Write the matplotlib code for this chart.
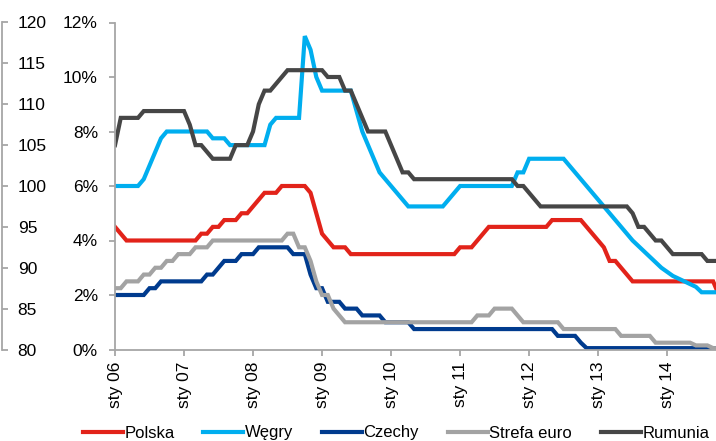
import matplotlib
matplotlib.use("Agg")
import matplotlib.pyplot as plt
from matplotlib.ticker import FuncFormatter

plt.rcParams['font.family'] = ['Liberation Sans', 'DejaVu Sans']

# monthly policy rates, Jan 2006 .. Oct 2014 (one row per year)
polska = [4.5, 4.25, 4.0, 4.0, 4.0, 4.0, 4.0, 4.0, 4.0, 4.0, 4.0, 4.0,
          4.0, 4.0, 4.0, 4.25, 4.25, 4.5, 4.5, 4.75, 4.75, 4.75, 5.0, 5.0,
          5.25, 5.5, 5.75, 5.75, 5.75, 6.0, 6.0, 6.0, 6.0, 6.0, 5.75, 5.0,
          4.25, 4.0, 3.75, 3.75, 3.75, 3.5, 3.5, 3.5, 3.5, 3.5, 3.5, 3.5,
          3.5, 3.5, 3.5, 3.5, 3.5, 3.5, 3.5, 3.5, 3.5, 3.5, 3.5, 3.5,
          3.75, 3.75, 3.75, 4.0, 4.25, 4.5, 4.5, 4.5, 4.5, 4.5, 4.5, 4.5,
          4.5, 4.5, 4.5, 4.5, 4.75, 4.75, 4.75, 4.75, 4.75, 4.75, 4.5, 4.25,
          4.0, 3.75, 3.25, 3.25, 3.0, 2.75, 2.5, 2.5, 2.5, 2.5, 2.5, 2.5,
          2.5, 2.5, 2.5, 2.5, 2.5, 2.5, 2.5, 2.5, 2.5, 2.0]

wegry = [6.0, 6.0, 6.0, 6.0, 6.0, 6.25, 6.75, 7.25, 7.75, 8.0, 8.0, 8.0,
         8.0, 8.0, 8.0, 8.0, 8.0, 7.75, 7.75, 7.75, 7.5, 7.5, 7.5, 7.5,
         7.5, 7.5, 7.5, 8.25, 8.5, 8.5, 8.5, 8.5, 8.5, 11.5, 11.0, 10.0,
         9.5, 9.5, 9.5, 9.5, 9.5, 9.5, 8.75, 8.0, 7.5, 7.0, 6.5, 6.25,
         6.0, 5.75, 5.5, 5.25, 5.25, 5.25, 5.25, 5.25, 5.25, 5.25, 5.5, 5.75,
         6.0, 6.0, 6.0, 6.0, 6.0, 6.0, 6.0, 6.0, 6.0, 6.0, 6.5, 6.5,
         7.0, 7.0, 7.0, 7.0, 7.0, 7.0, 7.0, 6.75, 6.5, 6.25, 6.0, 5.75,
         5.5, 5.25, 5.0, 4.75, 4.5, 4.25, 4.0, 3.8, 3.6, 3.4, 3.2, 3.0,
         2.85, 2.7, 2.6, 2.5, 2.4, 2.3, 2.1, 2.1, 2.1, 2.1]

czechy = [2.0, 2.0, 2.0, 2.0, 2.0, 2.0, 2.25, 2.25, 2.5, 2.5, 2.5, 2.5,
          2.5, 2.5, 2.5, 2.5, 2.75, 2.75, 3.0, 3.25, 3.25, 3.25, 3.5, 3.5,
          3.5, 3.75, 3.75, 3.75, 3.75, 3.75, 3.75, 3.5, 3.5, 3.5, 2.75, 2.25,
          2.25, 1.75, 1.75, 1.75, 1.5, 1.5, 1.5, 1.25, 1.25, 1.25, 1.25, 1.0,
          1.0, 1.0, 1.0, 1.0, 0.75, 0.75, 0.75, 0.75, 0.75, 0.75, 0.75, 0.75,
          0.75, 0.75, 0.75, 0.75, 0.75, 0.75, 0.75, 0.75, 0.75, 0.75, 0.75, 0.75,
          0.75, 0.75, 0.75, 0.75, 0.75, 0.5, 0.5, 0.5, 0.5, 0.25, 0.05, 0.05,
          0.05, 0.05, 0.05, 0.05, 0.05, 0.05, 0.05, 0.05, 0.05, 0.05, 0.05, 0.05,
          0.05, 0.05, 0.05, 0.05, 0.05, 0.05, 0.05, 0.05, 0.05, 0.05]

strefa_euro = [2.25, 2.25, 2.5, 2.5, 2.5, 2.75, 2.75, 3.0, 3.0, 3.25, 3.25, 3.5,
               3.5, 3.5, 3.75, 3.75, 3.75, 4.0, 4.0, 4.0, 4.0, 4.0, 4.0, 4.0,
               4.0, 4.0, 4.0, 4.0, 4.0, 4.0, 4.25, 4.25, 3.75, 3.75, 3.25, 2.5,
               2.0, 2.0, 1.5, 1.25, 1.0, 1.0, 1.0, 1.0, 1.0, 1.0, 1.0, 1.0,
               1.0, 1.0, 1.0, 1.0, 1.0, 1.0, 1.0, 1.0, 1.0, 1.0, 1.0, 1.0,
               1.0, 1.0, 1.0, 1.25, 1.25, 1.25, 1.5, 1.5, 1.5, 1.5, 1.25, 1.0,
               1.0, 1.0, 1.0, 1.0, 1.0, 1.0, 0.75, 0.75, 0.75, 0.75, 0.75, 0.75,
               0.75, 0.75, 0.75, 0.75, 0.5, 0.5, 0.5, 0.5, 0.5, 0.5, 0.25, 0.25,
               0.25, 0.25, 0.25, 0.25, 0.25, 0.15, 0.15, 0.15, 0.05, 0.05]

rumunia = [7.5, 8.5, 8.5, 8.5, 8.5, 8.75, 8.75, 8.75, 8.75, 8.75, 8.75, 8.75,
           8.75, 8.25, 7.5, 7.5, 7.25, 7.0, 7.0, 7.0, 7.0, 7.5, 7.5, 7.5,
           8.0, 9.0, 9.5, 9.5, 9.75, 10.0, 10.25, 10.25, 10.25, 10.25, 10.25, 10.25,
           10.25, 10.0, 10.0, 10.0, 9.5, 9.5, 9.0, 8.5, 8.0, 8.0, 8.0, 8.0,
           7.5, 7.0, 6.5, 6.5, 6.25, 6.25, 6.25, 6.25, 6.25, 6.25, 6.25, 6.25,
           6.25, 6.25, 6.25, 6.25, 6.25, 6.25, 6.25, 6.25, 6.25, 6.25, 6.0, 6.0,
           5.75, 5.5, 5.25, 5.25, 5.25, 5.25, 5.25, 5.25, 5.25, 5.25, 5.25, 5.25,
           5.25, 5.25, 5.25, 5.25, 5.25, 5.25, 5.0, 4.5, 4.5, 4.25, 4.0, 4.0,
           3.75, 3.5, 3.5, 3.5, 3.5, 3.5, 3.5, 3.25, 3.25, 3.25]

x_labels = ['sty 06', 'sty 07', 'sty 08', 'sty 09', 'sty 10',
            'sty 11', 'sty 12', 'sty 13', 'sty 14']
left_labels = [80, 85, 90, 95, 100, 105, 110, 115, 120]

series = [('Polska', polska, '#E2231A'),
          ('W\u0119gry', wegry, '#00AEEF'),
          ('Czechy', czechy, '#003B8E'),
          ('Strefa euro', strefa_euro, '#A3A3A3'),
          ('Rumunia', rumunia, '#464646')]

grey = '#A6A6A6'
W, H = 716, 441
bot = 1 - 349.5 / H
top = 1 - 22.5 / H

fig = plt.figure(figsize=(W / 100, H / 100), dpi=100)

ax = fig.add_axes([115 / W, bot, 1 - 115 / W, top - bot])
months = list(range(len(polska)))
handles = []
for name, vals, col in series:
    ln, = ax.plot(months, vals, color=col, lw=3, label=name, solid_joinstyle='miter')
    handles.append(ln)

ax.set_ylim(0, 12)
ax.set_yticks(range(0, 13, 2))
ax.yaxis.set_major_formatter(FuncFormatter(lambda v, p: '%d%%' % v))
ax.set_xlim(0, 104.5)
ax.set_xticks(range(0, 12 * len(x_labels), 12))
ax.set_xticklabels(x_labels, rotation=90)
for s in ['top', 'right']:
    ax.spines[s].set_visible(False)
for s in ['left', 'bottom']:
    ax.spines[s].set_color(grey)
    ax.spines[s].set_linewidth(1.3)
ax.tick_params(axis='both', colors=grey, labelcolor='black', width=1.3,
               length=4.3, direction='out', labelsize=12.5)
ax.tick_params(axis='y', pad=8.0)
ax.tick_params(axis='x', pad=4.5)

# outer index axis on the far left
ax0 = fig.add_axes([1.5 / W, bot, 6 / W, top - bot])
ax0.patch.set_visible(False)
ax0.set_ylim(80, 120)
ax0.set_yticks(left_labels)
ax0.set_xticks([])
for s in ['top', 'right', 'bottom']:
    ax0.spines[s].set_visible(False)
ax0.spines['left'].set_color(grey)
ax0.spines['left'].set_linewidth(1.3)
ax0.tick_params(axis='y', left=True, right=False, labelleft=False, labelright=True,
                direction='in', length=4.3, width=1.3, colors=grey,
                labelcolor='black', labelsize=12.5, pad=7.3)

fig.legend(handles, [h.get_label() for h in handles], loc='center',
           bbox_to_anchor=(0.553, 1 - 433 / H), ncol=5, frameon=False,
           handlelength=2.4, handletextpad=0.1, columnspacing=1.72,
           fontsize=12, borderpad=0, borderaxespad=0)

fig.savefig('out.png', dpi=100)
